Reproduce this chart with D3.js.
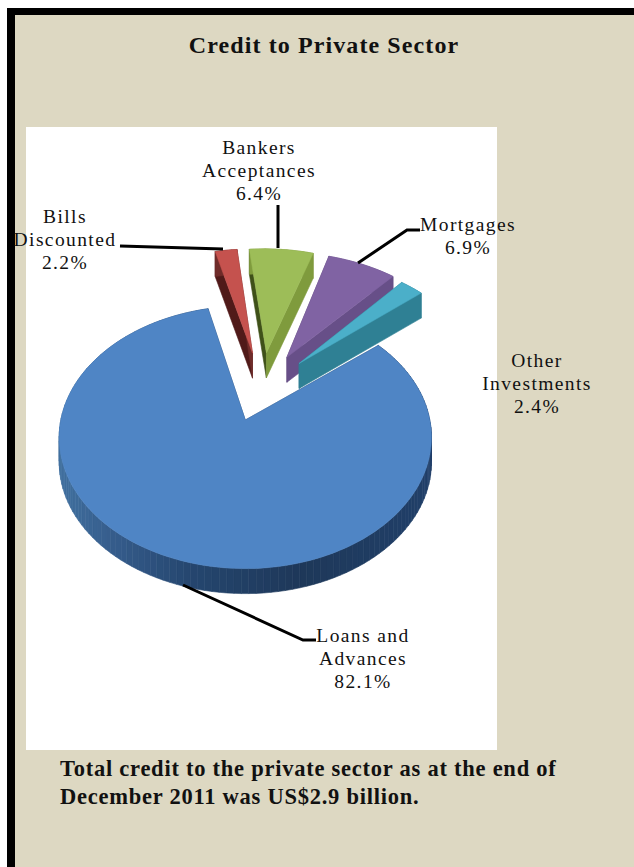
<!DOCTYPE html>
<html>
<head>
<meta charset="utf-8">
<script src="https://cdn.jsdelivr.net/npm/d3@7/dist/d3.min.js"></script>
<style>
  html, body { margin: 0; padding: 0; background: #fff; }
  svg { display: block; }
  text { font-family: "Liberation Serif", serif; fill: #111; }
</style>
</head>
<body>
<svg id="chart" width="634" height="867"></svg>
<script>
// Shares of credit to the private sector, in drawing order around the pie
const categories = ["Bills Discounted", "Bankers Acceptances", "Mortgages", "Other Investments", "Loans and Advances"];
const shares = [2.2, 6.4, 6.9, 2.4, 82.1];
const labelLines = [["Bills", "Discounted"], ["Bankers", "Acceptances"], ["Mortgages"], ["Other", "Investments"], ["Loans and", "Advances"]];
const labelCentres = [[65, 223], [259, 154], [468, 231], [537, 367], [363, 642]];
const topColours = ["#c5524e", "#9dbd58", "#8063a3", "#4bafc9", "#4f85c5"];
const startCutColours = ["#501a19", "#3f5119", "#5d4679", "#2c7a8d", "#2a4a74"];
const endCutColours = ["#702c2a", "#7f9b3d", "#674f88", "#2f8094", "#2a4a74"];
const sliceExplode = [0.3, 0.3, 0.3, 0.3, 0.275];
const sliceRadius = [1.05, 1.05, 1.05, 1.03, 1];
const sliceTurn = [0, 0, -1, -1.5, 0];
const leaders = [
  [[120, 246], [223, 249]],
  [[278, 205], [278, 248]],
  [[358, 263], [407, 230], [420, 230]],
  [[183, 585], [303, 640], [316, 640]]
];
const titleText = "Credit to Private Sector";
const noteLines = ["Total credit to the private sector as at the end of", "December 2011 was US$2.9 billion."];

const svg = d3.select("#chart");
const rad = d => d * Math.PI / 180;

// Page furniture: beige sheet, heavy top and left rules, white plot panel
svg.append("rect").attr("x", 7).attr("y", 8).attr("width", 627).attr("height", 859).attr("fill", "#ddd8c2");
svg.append("rect").attr("x", 7).attr("y", 8).attr("width", 627).attr("height", 7).attr("fill", "#000");
svg.append("rect").attr("x", 7).attr("y", 8).attr("width", 8).attr("height", 859).attr("fill", "#000");
svg.append("rect").attr("x", 26).attr("y", 127).attr("width", 471).attr("height", 623).attr("fill", "#fff");

// Perspective view of the pie plane: u runs right, v runs away from the viewer
const origin = { x: 246, y: 420 }, spanX = 184.5, spanY = 129, recede = 0.132;
const pieCentre = { u: 0.086, v: 0.26 };
const depth = 25;
const project = (u, v) => {
  const s = 1 / (1 + recede * v);
  return [origin.x + spanX * u * s, origin.y - spanY * v * s];
};

const pie = d3.pie().sort(null).value(d => d)
  .startAngle(rad(-13.2)).endAngle(rad(346.8));
const arcs = pie(shares);

const outline = d3.line();
const blueRimShade = d3.scaleLinear()
  .domain([60, 120, 190, 300, 434])
  .range(["#41709f", "#345a89", "#25466f", "#1e3859", "#21406a"])
  .clamp(true);

const slices = arcs.map((a, i) => {
  const mid = (a.startAngle + a.endAngle) / 2;
  const apexU = pieCentre.u + sliceExplode[i] * Math.sin(mid);
  const apexV = pieCentre.v + sliceExplode[i] * Math.cos(mid);
  const steps = d3.range(0, 1.0001, 1 / Math.ceil((a.endAngle - a.startAngle) / rad(2)));
  const rim = steps.map(t => {
    const ang = a.startAngle + t * (a.endAngle - a.startAngle) + rad(sliceTurn[i]);
    return project(apexU + sliceRadius[i] * Math.sin(ang), apexV + sliceRadius[i] * Math.cos(ang));
  });
  return { index: i, apex: project(apexU, apexV), rim };
});

// Extruded walls first, lit top face over them; later slices sit in front
const down = p => [p[0], p[1] + depth];
const pieLayer = svg.append("g");
slices.forEach(s => {
  const i = s.index;
  const walls = [];
  walls.push({ pts: [s.apex, s.rim[0], down(s.rim[0]), down(s.apex)], fill: startCutColours[i] });
  d3.pairs(s.rim).forEach(([p, q]) => {
    walls.push({
      pts: [p, q, down(q), down(p)],
      fill: i === 4 ? blueRimShade((p[0] + q[0]) / 2) : endCutColours[i]
    });
  });
  walls.push({ pts: [s.rim[s.rim.length - 1], s.apex, down(s.apex), down(s.rim[s.rim.length - 1])], fill: endCutColours[i] });

  const g = pieLayer.append("g").attr("class", "slice");
  g.selectAll("path").data(walls).join("path")
    .attr("d", d => outline(d.pts) + "Z")
    .attr("fill", d => d.fill)
    .attr("stroke", d => d.fill)
    .attr("stroke-width", 0.6);
  g.append("path")
    .attr("d", outline([s.apex, ...s.rim]) + "Z")
    .attr("fill", topColours[i])
    .attr("stroke", topColours[i])
    .attr("stroke-width", 0.5);
});

// Leader lines from slices to their labels
const leaderLine = d3.line();
svg.append("g").selectAll("path").data(leaders).join("path")
  .attr("d", d => leaderLine(d))
  .attr("fill", "none")
  .attr("stroke", "#000")
  .attr("stroke-width", 3);

// Slice labels: name lines followed by the share
const labels = svg.append("g").attr("font-size", 19.5).attr("letter-spacing", 1.4).attr("text-anchor", "middle");
categories.forEach((c, i) => {
  const lines = [...labelLines[i], shares[i].toFixed(1) + "%"];
  const [x, y] = labelCentres[i];
  labels.selectAll(null).data(lines).join("text")
    .attr("x", x)
    .attr("y", (d, k) => y + k * 23)
    .text(d => d);
});

svg.append("text")
  .attr("x", 324).attr("y", 53)
  .attr("text-anchor", "middle")
  .attr("font-size", 24).attr("font-weight", "bold").attr("letter-spacing", 1.1)
  .text(titleText);

svg.append("g").selectAll("text").data(noteLines).join("text")
  .attr("x", 60)
  .attr("y", (d, k) => 776 + k * 28)
  .attr("font-size", 22.5).attr("font-weight", "bold").attr("letter-spacing", 0.75)
  .text(d => d);
</script>
</body>
</html>
